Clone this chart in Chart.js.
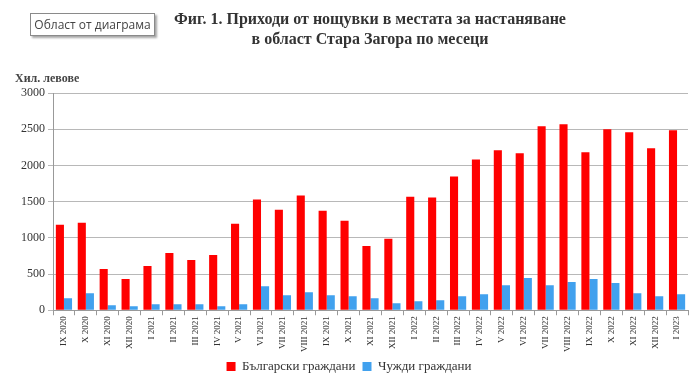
<!DOCTYPE html>
<html><head><meta charset="utf-8">
<script src="https://cdn.jsdelivr.net/npm/chart.js@4"></script>
<style>
html,body{margin:0;padding:0;background:#fff;}
#wrap{position:relative;width:700px;height:387px;}
#title{position:absolute;left:40px;width:660px;top:9px;text-align:center;font:bold 16px "Liberation Serif",serif;color:#333;line-height:20px;}
#ylab{position:absolute;left:15px;top:71px;font:bold 12px "Liberation Serif",serif;color:#444;}
#box{position:absolute;left:30px;top:13px;width:123px;height:21px;border:1px solid #8a8a8a;background:#fff;box-shadow:2px 2px 2px rgba(0,0,0,0.35);font:12px "Open Sans",sans-serif;color:#444;line-height:21px;text-align:center;}
</style></head>
<body><div id="wrap">
<canvas id="c" width="700" height="387"></canvas>
<div id="title">Фиг. 1. Приходи от нощувки в местата за настаняване<br>в област Стара Загора по месеци</div>
<div id="ylab">Хил. левове</div>
<div id="box">Област от диаграма</div>
</div>
<script>
const categories = ["IX 2020","X 2020","XI 2020","XII 2020","I 2021","II 2021","III 2021","IV 2021","V 2021","VI 2021","VII 2021","VIII 2021","IX 2021","X 2021","XI 2021","XII 2021","I 2022","II 2022","III 2022","IV 2022","V 2022","VI 2022","VII 2022","VIII 2022","IX 2022","X 2022","XI 2022","XII 2022","I 2023"];
const bulgarian = [1181,1208,569,431,611,792,694,764,1194,1528,1389,1583,1375,1236,889,986,1569,1556,1847,2083,2208,2167,2542,2569,2181,2500,2458,2236,2486];
const foreign = [167,236,69,56,83,83,83,56,83,333,208,250,208,194,167,97,125,139,194,222,347,444,347,389,431,375,236,194,222];
const seriesNames = ["Български граждани","Чужди граждани"];
const yTicks = [0,500,1000,1500,2000,2500,3000];

new Chart(document.getElementById('c'), {
  type: 'bar',
  data: {
    labels: categories,
    datasets: [
      {label: seriesNames[0], data: bulgarian, backgroundColor: '#FF0000', categoryPercentage: 0.74, barPercentage: 1.0},
      {label: seriesNames[1], data: foreign, backgroundColor: '#41A1EE', categoryPercentage: 0.74, barPercentage: 1.0}
    ]
  },
  options: {
    responsive: false,
    animation: false,
    layout: {padding: {top: 93, left: 10, right: 12, bottom: 4}},
    plugins: {
      title: {display: false},
      tooltip: {enabled: false},
      legend: {
        position: 'bottom',
        labels: {boxWidth: 9, boxHeight: 9, padding: 7, color: '#333', font: {family: '"Liberation Serif", serif', size: 13}}
      }
    },
    scales: {
      x: {
        grid: {display: true, drawOnChartArea: false, drawTicks: true, tickLength: 5, color: '#999', offset: true},
        border: {display: true, color: '#999'},
        ticks: {maxRotation: 90, minRotation: 90, autoSkip: false, color: '#333', padding: 1, font: {family: '"Liberation Serif", serif', size: 9}}
      },
      y: {
        min: 0, max: 3000,
        afterBuildTicks: (s) => { s.ticks = yTicks.map(v => ({value: v})); },
        afterFit: (s) => { s.width = 43; },
        grid: {color: '#b8b8b8', drawTicks: true, tickLength: 5},
        border: {display: true, color: '#999'},
        ticks: {color: '#333', padding: 3, callback: (v) => String(v), font: {family: '"Liberation Serif", serif', size: 12}}
      }
    }
  }
});
</script>
</body></html>
